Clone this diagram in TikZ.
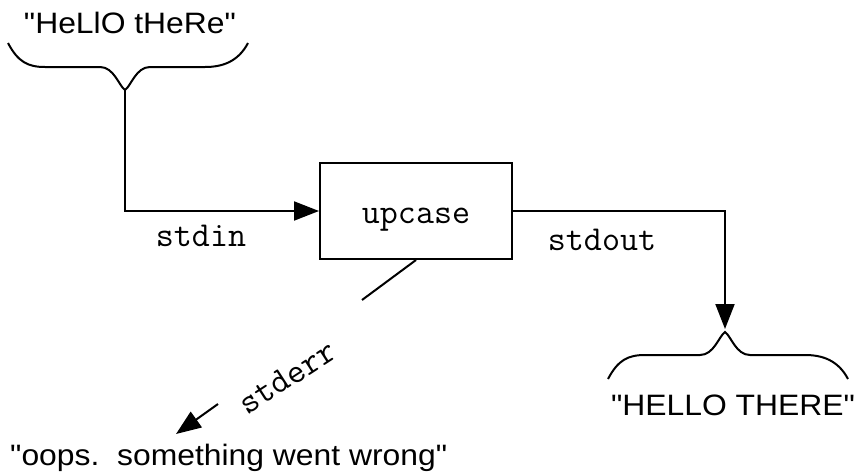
\documentclass[tikz,border=0pt]{standalone}
\usepackage{fontspec}
\setmainfont{Liberation Sans}[FakeStretch=1.08, Ligatures=TeXOff]
\usetikzlibrary{arrows.meta}
\tikzset{
  line/.style={line width=2pt, line join=miter},
  arr/.style={line width=2pt, -{Triangle[length=25pt,width=19pt]}},
  sans/.style={font=\fontsize{29.5}{35}\selectfont, inner sep=0pt},
  mono/.style={font=\ttfamily\fontsize{35}{40}\selectfont, inner sep=0pt},
  procbox/.style={draw, line width=2pt, minimum width=192pt, minimum height=96pt, inner sep=0pt},
}
\begin{document}
\begin{tikzpicture}[x=1pt,y=-1pt]
\path[use as bounding box] (0,0) rectangle (856,474);
% input text and brace
\node[sans, anchor=base] (in) at (130,33) {"HeLlO tHeRe"};
\draw[line] (8,43) .. controls (18,62) and (28,67) .. (45,67) -- (100,67)
  .. controls (114,67) and (119,86) .. (125,90) coordinate (intip)
  .. controls (131,86) and (136,67) .. (150,67) -- (205,67)
  .. controls (222,67) and (238,62) .. (248,43);
% process box
\node[procbox] (box) at (416,211) {};
\node[mono, anchor=base] (boxlabel) at (416,223) {upcase};
% output brace and text
\draw[line] (608,379) .. controls (618,360) and (628,355) .. (645,355) -- (700,355)
  .. controls (714,355) and (719,336) .. (725,332) coordinate (outtip)
  .. controls (731,336) and (736,355) .. (750,355) -- (805,355)
  .. controls (822,355) and (838,360) .. (848,379);
\node[sans, anchor=base] (out) at (733,415) {"HELLO THERE"};
% connectors
\draw[arr] (intip) |- (box.west);
\draw[arr, shorten >=3pt] (box.east) -| (outtip);
\coordinate (errend) at (362,300);
\draw[line] (box.south) -- (errend);
\coordinate (errtail) at (218,404);
\coordinate (errhead) at (176,434);
\draw[arr] (errtail) -- (errhead);
% labels
\node[mono, anchor=base] (stdin) at (201,246) {stdin};
\node[mono, anchor=base] (stdout) at (602,250) {stdout};
\node[mono, anchor=base, rotate=33] (stderr) at (293,386) {stderr};
\node[sans, anchor=base west] (err) at (10,465) {"oops.\ \ something went wrong"};
\end{tikzpicture}
\end{document}
